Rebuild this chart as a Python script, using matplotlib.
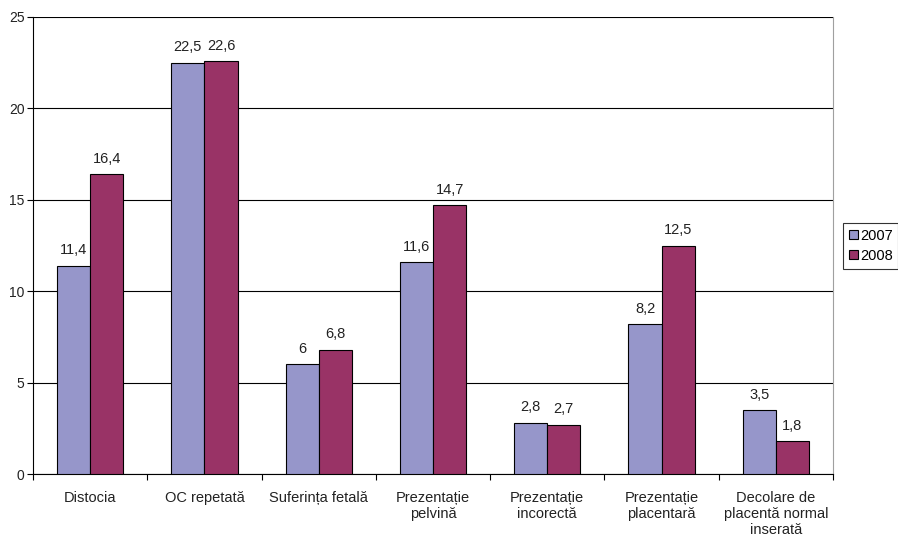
import matplotlib
matplotlib.use("Agg")
import matplotlib.pyplot as plt
import numpy as np

categories = ["Distocia", "OC repetată", "Suferința fetală", "Prezentație\npelvină",
              "Prezentație\nincorectă", "Prezentație\nplacentară",
              "Decolare de\nplacentă normal\ninserată"]
values_2007 = [11.4, 22.5, 6.0, 11.6, 2.8, 8.2, 3.5]
values_2008 = [16.4, 22.6, 6.8, 14.7, 2.7, 12.5, 1.8]
series_names = ["2007", "2008"]
yticks = [0, 5, 10, 15, 20, 25]

plt.rcParams["font.family"] = ["Liberation Sans", "DejaVu Sans"]
fs = 10.5
fs_y = 10

fig = plt.figure(figsize=(8.98, 5.39), dpi=100)
ax = fig.add_axes([33 / 898, 65 / 539, 800 / 898, 457 / 539])

x = np.arange(len(categories))
w = 0.29
colors = ["#9696CA", "#993366"]
for i, (vals, c, name) in enumerate(zip([values_2007, values_2008], colors, series_names)):
    pos = x + (i - 0.5) * w
    ax.bar(pos, vals, width=w, color=c, edgecolor="black", linewidth=0.8, label=name, zorder=3)
    for p, v in zip(pos, vals):
        txt = f"{v:g}".replace(".", ",")
        ax.annotate(txt, (p, v), xytext=(0, 6), textcoords="offset points",
                    ha="center", va="bottom", fontsize=fs, color="#222222")

ax.set_xlim(-0.5, len(categories) - 0.5)
ax.set_ylim(0, 25)
ax.set_yticks(yticks)
ax.set_yticklabels([str(t) for t in yticks], fontsize=fs_y, color="#222222")
ax.yaxis.grid(True, color="black", linewidth=0.8, zorder=0)
ax.set_axisbelow(True)

# category labels centered, ticks at category boundaries
ax.set_xticks(x)
ax.set_xticklabels(categories, fontsize=fs, linespacing=1.2, color="#222222")
ax.tick_params(axis="x", which="major", length=0, pad=12)
ax.set_xticks(np.arange(-0.5, len(categories) + 0.5, 1), minor=True)
ax.tick_params(axis="x", which="minor", length=4, direction="out", width=0.8)
ax.tick_params(axis="y", length=4, direction="out", width=0.8, pad=2)

for s in ["left", "bottom"]:
    ax.spines[s].set_color("black")
    ax.spines[s].set_linewidth(0.8)
ax.spines["top"].set_visible(False)
ax.spines["right"].set_color("#a0a0a0")
ax.spines["right"].set_linewidth(0.8)

leg = ax.legend(loc="upper left", bbox_to_anchor=(843 / 898, 1 - 223 / 539),
                bbox_transform=fig.transFigure, fontsize=fs, frameon=True,
                fancybox=False, edgecolor="black", handlelength=0.6, handleheight=0.6,
                handletextpad=0.15, borderpad=0.4, labelspacing=0.4, borderaxespad=0)
leg.get_frame().set_linewidth(0.8)

fig.savefig("out.png", dpi=100)
